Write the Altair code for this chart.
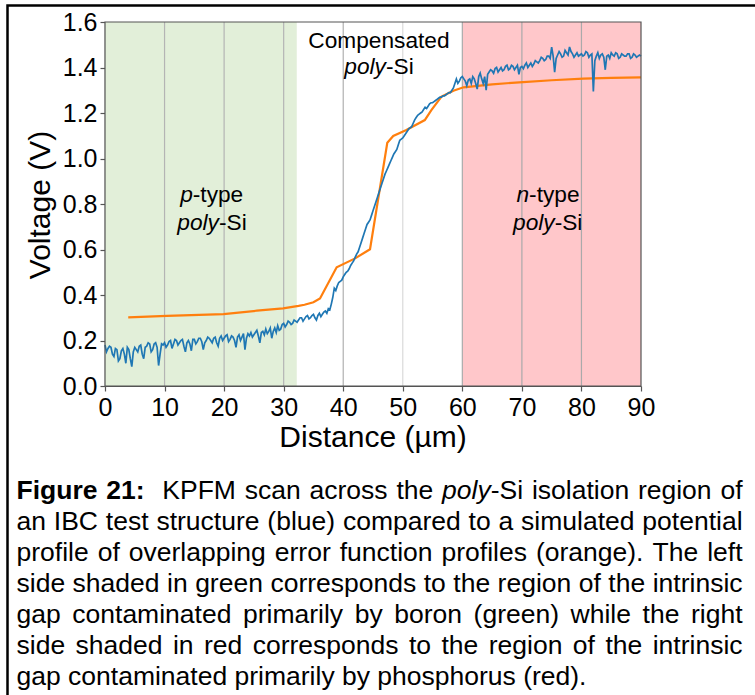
import altair as alt
import pandas as pd

# ---------------- data ----------------
# KPFM scan, read at 0.5 um steps and at the midpoints between them
kpfm_voltage_a = [  # d = 0, 0.5, ..., 90
    0.18, 0.165, 0.17, 0.13, 0.16, 0.12, 0.165, 0.10, 0.16, 0.085,
    0.17, 0.15, 0.18, 0.12, 0.175, 0.185, 0.16, 0.19, 0.09, 0.185,
    0.19, 0.18, 0.20, 0.185, 0.20, 0.19, 0.205, 0.15, 0.20, 0.155,
    0.205, 0.195, 0.21, 0.16, 0.20, 0.21, 0.19, 0.215, 0.175, 0.22,
    0.21, 0.225, 0.205, 0.215, 0.17, 0.225, 0.215, 0.16, 0.23, 0.235,
    0.225, 0.245, 0.19, 0.24, 0.25, 0.24, 0.21, 0.255, 0.265, 0.25,
    0.275, 0.27, 0.28, 0.275, 0.285, 0.29, 0.30, 0.295, 0.31, 0.30,
    0.315, 0.29, 0.32, 0.315, 0.33, 0.34, 0.36, 0.43, 0.44, 0.46,
    0.48, 0.50, 0.515, 0.54, 0.565, 0.59, 0.63, 0.67, 0.71, 0.73,
    0.77, 0.81, 0.85, 0.89, 0.93, 0.96, 0.99, 1.02, 1.04, 1.08,
    1.09, 1.11, 1.13, 1.14, 1.17, 1.19, 1.20, 1.215, 1.22, 1.24,
    1.245, 1.255, 1.265, 1.27, 1.275, 1.285, 1.29, 1.31, 1.35, 1.34,
    1.36, 1.34, 1.345, 1.33, 1.35, 1.305, 1.375, 1.33, 1.30, 1.38,
    1.385, 1.395, 1.38, 1.40, 1.39, 1.41, 1.395, 1.405, 1.40, 1.37,
    1.405, 1.41, 1.40, 1.42, 1.415, 1.425, 1.43, 1.44, 1.435, 1.45,
    1.49, 1.38, 1.455, 1.46, 1.45, 1.465, 1.49, 1.46, 1.455, 1.45,
    1.46, 1.455, 1.465, 1.455, 1.295, 1.45, 1.44, 1.46, 1.39, 1.455,
    1.465, 1.45, 1.46, 1.445, 1.455, 1.45, 1.46, 1.445, 1.455, 1.45,
    1.45,
]
kpfm_voltage_b = [  # d = 0.25, 0.75, ..., 89.75
    0.15, 0.175, 0.14, 0.165, 0.11, 0.155, 0.14, 0.17, 0.12, 0.15,
    0.16, 0.175, 0.14, 0.17, 0.19, 0.15, 0.185, 0.17, 0.14, 0.18,
    0.17, 0.195, 0.165, 0.205, 0.18, 0.20, 0.175, 0.19, 0.185, 0.205,
    0.185, 0.21, 0.195, 0.19, 0.215, 0.20, 0.21, 0.19, 0.21, 0.20,
    0.22, 0.195, 0.22, 0.20, 0.215, 0.20, 0.23, 0.21, 0.22, 0.215,
    0.235, 0.22, 0.235, 0.225, 0.23, 0.255, 0.24, 0.235, 0.245, 0.27,
    0.26, 0.285, 0.27, 0.29, 0.28, 0.30, 0.285, 0.305, 0.295, 0.31,
    0.30, 0.31, 0.305, 0.325, 0.32, 0.335, 0.39, 0.42, 0.455, 0.465,
    0.49, 0.505, 0.53, 0.55, 0.58, 0.61, 0.65, 0.69, 0.72, 0.75,
    0.79, 0.83, 0.87, 0.91, 0.945, 0.975, 1.005, 1.03, 1.06, 1.085,
    1.10, 1.12, 1.135, 1.155, 1.18, 1.195, 1.205, 1.225, 1.23, 1.245,
    1.25, 1.26, 1.27, 1.275, 1.28, 1.29, 1.30, 1.33, 1.33, 1.355,
    1.35, 1.32, 1.35, 1.36, 1.33, 1.36, 1.35, 1.36, 1.37, 1.39,
    1.375, 1.40, 1.39, 1.385, 1.405, 1.39, 1.41, 1.39, 1.41, 1.40,
    1.395, 1.42, 1.41, 1.405, 1.43, 1.42, 1.445, 1.43, 1.45, 1.44,
    1.45, 1.44, 1.47, 1.445, 1.475, 1.455, 1.47, 1.445, 1.465, 1.455,
    1.45, 1.47, 1.445, 1.46, 1.43, 1.465, 1.455, 1.445, 1.45, 1.44,
    1.455, 1.465, 1.44, 1.46, 1.45, 1.46, 1.44, 1.46, 1.445, 1.455,
]
kpfm_distance_a = [i * 0.5 for i in range(181)]
kpfm_distance_b = [0.25 + i * 0.5 for i in range(180)]

sim_distance = [3.9, 10.4, 19.9, 25.5, 29.9, 32.5, 33.5, 35.0, 36.1, 38.9,
                42.0, 44.5, 47.4, 48.4, 50.6, 53.7, 54.8, 56.5, 58.5, 60.2,
                65.0, 70.2, 75.0, 80.3, 85.0, 90.0]
sim_voltage = [0.302, 0.308, 0.316, 0.331, 0.341, 0.352, 0.357, 0.368, 0.385, 0.522,
               0.561, 0.601, 1.069, 1.099, 1.125, 1.169, 1.213, 1.272, 1.298, 1.313,
               1.326, 1.336, 1.344, 1.351, 1.354, 1.357]

region_start = [0, 60]
region_end = [32.2, 90]
region_colors = ["#e2efd9", "#ffc7ca"]

grid_x = [10, 20, 30, 40, 50, 60, 70, 80]
grid_colors = ["#b4b4b4", "#b4b4b4", "#b4b4b4", "#b0b0b0", "#dadada", "#aaaaaa", "#aaaaaa", "#aaaaaa"]

x_ticks = [0, 10, 20, 30, 40, 50, 60, 70, 80, 90]
y_ticks = [0.0, 0.2, 0.4, 0.6, 0.8, 1.0, 1.2, 1.4, 1.6]

caption_lines = [
    "!Figure !21:  KPFM scan across the _poly_-Si isolation region of",
    "an IBC test structure (blue) compared to a simulated potential",
    "profile of overlapping error function profiles (orange). The left",
    "side shaded in green corresponds to the region of the intrinsic",
    "gap contaminated primarily by boron (green) while the right",
    "side shaded in red corresponds to the region of the intrinsic",
    "gap contaminated primarily by phosphorus (red).",
]

# ---------------- layout ----------------
W, H = 536, 364
PADL, PADT = 105, 22
FONT = "Liberation Sans"
GREY = "#555555"

REG = {' ': 278, 'a': 556, 'b': 556, 'c': 500, 'd': 556, 'e': 556, 'f': 278, 'g': 556, 'h': 556,
       'i': 222, 'j': 222, 'k': 500, 'l': 222, 'm': 833, 'n': 556, 'o': 556, 'p': 556, 'q': 556,
       'r': 333, 's': 500, 't': 278, 'u': 556, 'v': 500, 'w': 722, 'x': 500, 'y': 500, 'z': 500,
       'A': 667, 'B': 667, 'C': 722, 'D': 722, 'E': 667, 'F': 611, 'G': 778, 'H': 722, 'I': 278,
       'K': 667, 'M': 833, 'P': 667, 'S': 667, 'T': 611, '(': 333, ')': 333, '.': 278, ',': 278,
       ':': 278, '-': 333, '0': 556, '1': 556, '2': 556}
BOLD = {' ': 278, 'F': 611, 'i': 278, 'g': 611, 'u': 611, 'r': 389, 'e': 556, '2': 556, '1': 556, ':': 333}


def tw(s, style, size):
    table = BOLD if style == "bold" else REG
    return sum(table.get(c, 556) for c in s) * size / 1000.0


def segs(word):
    if word.startswith('!'):
        return [(word[1:], 'bold')]
    parts = word.split('_')
    out = []
    for k, p in enumerate(parts):
        if p:
            out.append((p, 'italic' if k % 2 == 1 else 'normal'))
    return out


rows = []


def place_word(x, y, word, size):
    for text, style in segs(word):
        rows.append({"x": x - PADL, "y": y - PADT, "text": text, "style": style, "size": size})
        x += tw(text, style, size)
    return x


def word_width(word, size):
    return sum(tw(t, s, size) for t, s in segs(word))


# caption (justified)
CAP_SIZE = 26.5
X0, X1 = 16.5, 742.5
for li, line in enumerate(caption_lines):
    tokens = line.split(' ')
    words, gaps = [], []
    pending = 0
    for tok in tokens:
        if tok == '':
            pending += 1
            continue
        if words:
            gaps.append(1 + pending)
        pending = 0
        words.append(tok)
    sp = tw(' ', 'normal', CAP_SIZE)
    natural = sum(word_width(w, CAP_SIZE) for w in words) + sum(gaps) * sp
    if li < len(caption_lines) - 1 and sum(gaps) > 0:
        sp_eff = sp + (X1 - X0 - natural) / sum(gaps)
    else:
        sp_eff = sp
    x = X0
    y = 499 + 31 * li
    for k, w in enumerate(words):
        x = place_word(x, y, w, CAP_SIZE)
        if k < len(gaps):
            x += gaps[k] * sp_eff

# in-plot annotations (centered)
ANN = 22.7
for text, cx, by in [("Compensated", 379, 48.3), ("_poly_-Si", 379, 73.5),
                     ("_p_-type", 211.7, 201.5), ("_poly_-Si", 212, 230),
                     ("_n_-type", 548, 201.5), ("_poly_-Si", 547.7, 230)]:
    w = word_width(text, ANN)
    place_word(cx - w / 2, by, text, ANN)

texts = pd.DataFrame(rows)

xs = alt.Scale(domain=[0, 90], nice=False, zero=False)
ys = alt.Scale(domain=[0, 1.6], nice=False, zero=False)
xaxis = alt.Axis(values=x_ticks, grid=False, labelPadding=4, format="d", title=None,
                 labelFlush=False, labelOverlap=False)
yaxis = alt.Axis(values=y_ticks, grid=False, labelPadding=3, format=".1f", title=None,
                 labelFlush=False, labelOverlap=False)

regions = pd.DataFrame({"x0": region_start, "x1": region_end, "c": region_colors})
reg = alt.Chart(regions).mark_rect().encode(
    x=alt.X("x0:Q", scale=xs, axis=xaxis), x2="x1:Q",
    y=alt.value(0), y2=alt.value(H),
    color=alt.Color("c:N", scale=None),
)

grid = alt.Chart(pd.DataFrame({"g": grid_x, "c": grid_colors})).mark_rule(strokeWidth=1.2).encode(
    x=alt.X("g:Q", scale=xs, axis=xaxis),
    y=alt.value(0), y2=alt.value(H),
    color=alt.Color("c:N", scale=None),
)

sim = alt.Chart(pd.DataFrame({"d": sim_distance, "v": sim_voltage})).mark_line(
    color="#ff7f0e", strokeWidth=2.2).encode(
    x=alt.X("d:Q", scale=xs, axis=xaxis),
    y=alt.Y("v:Q", scale=ys, axis=yaxis),
)

kpfm_df = pd.DataFrame({"d": kpfm_distance_a + kpfm_distance_b,
                        "v": kpfm_voltage_a + kpfm_voltage_b})
kpfm = alt.Chart(kpfm_df).mark_line(color="#1f77b4", strokeWidth=1.7).encode(
    x=alt.X("d:Q", scale=xs, axis=xaxis),
    y=alt.Y("v:Q", scale=ys, axis=yaxis),
    order=alt.Order("d:Q"),
)

one = pd.DataFrame({"a": [0]})
frame = alt.Chart(one).mark_rect(fillOpacity=0, stroke=GREY, strokeWidth=1.2).encode(
    x=alt.value(0), x2=alt.value(W), y=alt.value(0), y2=alt.value(H))

border = alt.Chart(one).mark_rect(fillOpacity=0, stroke="black", strokeWidth=2.5).encode(
    x=alt.value(7.5 - PADL), x2=alt.value(770 - PADL),
    y=alt.value(5.5 - PADT), y2=alt.value(710 - PADT))


def text_layer(style):
    kw = {}
    if style == "italic":
        kw["fontStyle"] = "italic"
    if style == "bold":
        kw["fontWeight"] = "bold"
    return alt.Chart(texts[texts["style"] == style]).mark_text(
        font=FONT, align="left", baseline="alphabetic", color="black", **kw).encode(
        x=alt.X("x:Q", scale=None, axis=None),
        y=alt.Y("y:Q", scale=None, axis=None),
        size=alt.Size("size:Q", scale=None, legend=None),
        text="text:N",
    )


xtitle = alt.Chart(one).mark_text(font=FONT, fontSize=30, align="center", baseline="alphabetic",
                                  color="black", text="Distance (µm)").encode(
    x=alt.value(268), y=alt.value(425))
ytitle = alt.Chart(one).mark_text(font=FONT, fontSize=30, align="center", baseline="alphabetic",
                                  color="black", angle=270, text="Voltage (V)").encode(
    x=alt.value(-55), y=alt.value(183))

chart = alt.layer(
    reg, grid, sim, kpfm, frame, border,
    text_layer("normal"), text_layer("italic"), text_layer("bold"),
    xtitle, ytitle,
).properties(
    width=W, height=H,
    padding={"left": PADL, "top": PADT, "right": 755 - PADL - W, "bottom": 695 - PADT - H},
    autosize=alt.AutoSizeParams(type="none"),
    background="white",
).configure_view(stroke=None).configure_axis(
    domainColor=GREY, domainWidth=1.2, tickColor=GREY, tickSize=5, tickWidth=1.2,
    labelFont=FONT, labelFontSize=25, labelColor="black",
)

chart.save("out.html", embed_options={"renderer": "svg", "actions": False})
